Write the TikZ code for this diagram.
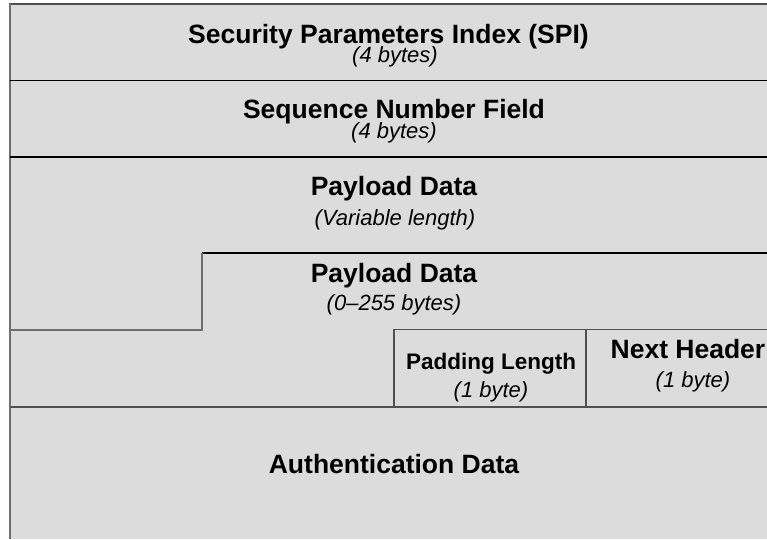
\documentclass[tikz,border=0pt]{standalone}
\usepackage{fontspec}
\setmainfont{Liberation Sans}
\definecolor{cellfill}{RGB}{220,220,220}
\definecolor{edgedark}{RGB}{80,80,80}
\definecolor{edgemid}{RGB}{110,110,110}
\begin{document}
\begin{tikzpicture}[x=1pt,y=-1pt,
  fieldname/.style={anchor=base,inner sep=0pt,font=\fontsize{26.5}{30}\selectfont\bfseries},
  smallname/.style={anchor=base,inner sep=0pt,font=\fontsize{22.5}{26}\selectfont\bfseries},
  fieldsize/.style={anchor=base,inner sep=0pt,font=\fontsize{22}{26}\selectfont\itshape},
  rule/.style={line width=1.3pt,black},
  shade/.style={line width=2pt,edgemid},
  thin/.style={line width=1.2pt,edgedark}]
\useasboundingbox (0,0) rectangle (767,539);

% packet background
\fill[cellfill] (9,3) rectangle (767,539);

% outer edges
\draw[line width=2pt,edgedark] (8.5,3.5) -- (767,3.5);
\draw[shade] (9.5,3) -- (9.5,539);

% full-width field boundaries
\draw[rule] (10,80.5) -- (767,80.5);
\draw[rule] (10,157) -- (767,157);

% step between variable payload and padding
\draw[rule] (202,253) -- (767,253);
\draw[shade] (10,329.5) -- (202,329.5) -- (202,253);

% padding length / next header cells
\draw[thin] (394,406) -- (394,329.5) -- (767,329.5);
\draw[thin] (586,329.5) -- (586,406);
\draw[line width=2pt,edgedark] (10,406.5) -- (767,406.5);

% labels
\node[fieldname] (spi) at (388.5,43) {Security Parameters Index (SPI)};
\node[fieldsize] (spisz) at (395,62) {(4 bytes)};

\node[fieldname] (seq) at (394,118) {Sequence Number Field};
\node[fieldsize] (seqsz) at (394,138) {(4 bytes)};

\node[fieldname] (pay) at (394,195) {Payload Data};
\node[fieldsize] (paysz) at (395,225) {(Variable length)};

\node[fieldname] (pad) at (394,282) {Payload Data};
\node[fieldsize] (padsz) at (394,310) {(0--255 bytes)};

\node[smallname] (plen) at (491,369) {Padding Length};
\node[fieldsize] (plensz) at (491,397) {(1 byte)};

\node[fieldname] (nxt) at (688,358) {Next Header};
\node[fieldsize] (nxtsz) at (693,387) {(1 byte)};

\node[fieldname] (auth) at (394,473) {Authentication Data};
\end{tikzpicture}
\end{document}
